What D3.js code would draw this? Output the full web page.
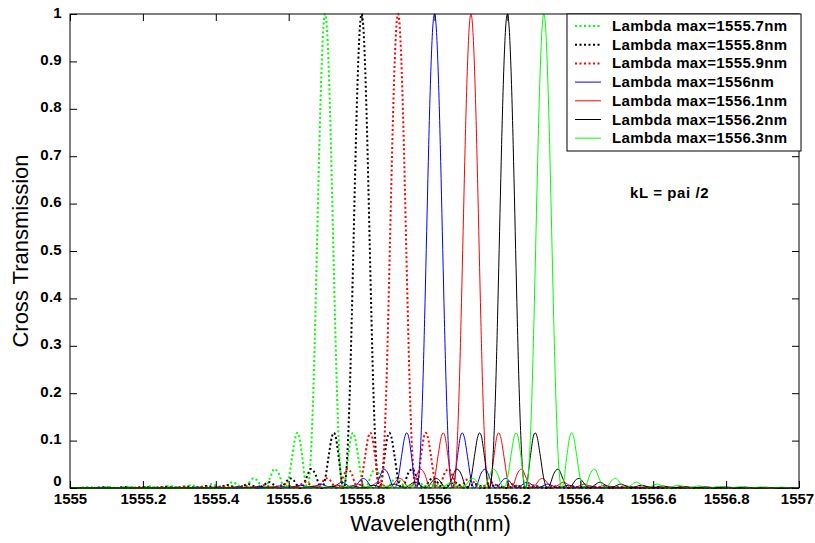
<!DOCTYPE html>
<html>
<head>
<meta charset="utf-8">
<script src="https://cdn.jsdelivr.net/npm/d3@7"></script>
<style>
  html, body { margin: 0; padding: 0; background: #fff; }
  svg { display: block; font-family: "Liberation Sans", Arial, sans-serif; }
</style>
</head>
<body>
<svg id="chart" width="815" height="543"></svg>
<script>
// ---------------- data ----------------
const seriesNames = [
  "Lambda max=1555.7nm", "Lambda max=1555.8nm", "Lambda max=1555.9nm",
  "Lambda max=1556nm", "Lambda max=1556.1nm", "Lambda max=1556.2nm", "Lambda max=1556.3nm"
];
const centers = [1555.7, 1555.8, 1555.9, 1556.0, 1556.1, 1556.2, 1556.3];
const seriesColors = ["#00ff00", "#000000", "#ff0000", "#0000ff", "#ff0000", "#000000", "#00ff00"];
const seriesDotted = [true, true, true, false, false, false, false];

// one-sided response: offset from the peak (nm) and transmission
const profileOffset = [0, 0.0045, 0.0090, 0.0136, 0.0181, 0.0226, 0.0271, 0.0316, 0.0362, 0.0407,
  0.0434, 0.0461, 0.0492, 0.0542, 0.0633, 0.0723, 0.0763, 0.0814, 0.0904, 0.0994, 0.1049, 0.1100,
  0.1175, 0.1266, 0.1392, 0.1519, 0.1609, 0.1680, 0.1772, 0.1862, 0.1967, 0.2079, 0.2170, 0.2255,
  0.2396, 0.2540, 0.2685, 0.2826, 0.2965, 0.3112, 0.3254, 0.3395, 0.3681, 0.3967, 0.4251, 0.4535,
  0.4820, 0.5104, 0.5388, 0.5674, 0.5957, 0.6241, 0.6525, 0.6811, 0.7095, 0.7379];
const profileValue = [1, 0.975, 0.9025, 0.791, 0.653, 0.503, 0.356, 0.225, 0.121, 0.049,
  0.022, 0.006, 0, 0.0126, 0.0687, 0.1119, 0.1163, 0.1083, 0.0670, 0.0215, 0.0050, 0,
  0.0085, 0.0290, 0.0400, 0.0203, 0.0043, 0, 0.0058, 0.0160, 0.0204, 0.0123, 0.0034, 0,
  0.0062, 0.0124, 0.0062, 0, 0.0041, 0.0083, 0.0041, 0, 0.0059, 0, 0.0044, 0,
  0.0035, 0, 0.0028, 0, 0.0023, 0, 0.0019, 0, 0.0016, 0];

const xDomain = [1555, 1557];
const yDomain = [0, 1];
const xTicks = [1555, 1555.2, 1555.4, 1555.6, 1555.8, 1556, 1556.2, 1556.4, 1556.6, 1556.8, 1557];
const xTickLabels = ["1555", "1555.2", "1555.4", "1555.6", "1555.8", "1556", "1556.2", "1556.4", "1556.6", "1556.8", "1557"];
const yTicks = [0, 0.1, 0.2, 0.3, 0.4, 0.5, 0.6, 0.7, 0.8, 0.9, 1];
const yTickLabels = ["0", "0.1", "0.2", "0.3", "0.4", "0.5", "0.6", "0.7", "0.8", "0.9", "1"];
const xTitle = "Wavelength(nm)";
const yTitle = "Cross Transmission";
const annotation = "kL = pai /2";

// ---------------- layout ----------------
const L = 70, R = 799, T = 14, B = 488;
const svg = d3.select("#chart");
const x = d3.scaleLinear().domain(xDomain).range([L, R]);
const y = d3.scaleLinear().domain(yDomain).range([B, T]);

svg.append("defs").append("clipPath").attr("id", "clip")
  .append("rect").attr("x", L).attr("y", 0).attr("width", R - L).attr("height", B + 2);

function buildSeries(c) {
  const pts = [{x: xDomain[0] - 0.01, y: 0}];
  const left = [];
  for (let i = profileOffset.length - 1; i >= 1; i--) left.push({x: c - profileOffset[i], y: profileValue[i]});
  const right = [];
  for (let i = 0; i < profileOffset.length; i++) right.push({x: c + profileOffset[i], y: profileValue[i]});
  return pts.concat(left, right, [{x: xDomain[1] + 0.01, y: 0}]);
}
const line = d3.line().x(d => x(d.x)).y(d => y(d.y)).curve(d3.curveMonotoneX);

const gLines = svg.append("g").attr("clip-path", "url(#clip)");
centers.forEach((c, i) => {
  gLines.append("path")
    .attr("d", line(buildSeries(c)))
    .attr("fill", "none")
    .attr("stroke", seriesColors[i])
    .attr("stroke-width", seriesDotted[i] ? 2 : 1)
    .attr("stroke-dasharray", seriesDotted[i] ? "2,2.5" : null);
});

// axes
const tickFont = "bold 15px 'Liberation Sans', Arial, sans-serif";
const gx = svg.append("g").attr("transform", `translate(0,${B})`)
  .call(d3.axisBottom(x).tickValues(xTicks).tickFormat((d, i) => xTickLabels[i]).tickSizeInner(-7).tickSizeOuter(0).tickPadding(4));
const gxt = svg.append("g").attr("transform", `translate(0,${T})`)
  .call(d3.axisTop(x).tickValues(xTicks).tickFormat("").tickSizeInner(-7).tickSizeOuter(0));
const gy = svg.append("g").attr("transform", `translate(${L},0)`)
  .call(d3.axisLeft(y).tickValues(yTicks).tickFormat((d, i) => yTickLabels[i]).tickSizeInner(-7).tickSizeOuter(0).tickPadding(8));
const gyr = svg.append("g").attr("transform", `translate(${R},0)`)
  .call(d3.axisRight(y).tickValues(yTicks).tickFormat("").tickSizeInner(-7).tickSizeOuter(0));
[gx, gxt, gy, gyr].forEach(g => {
  g.select(".domain").remove();
  g.selectAll("line").attr("stroke", "#000");
  g.selectAll("text").style("font", tickFont).attr("fill", "#000");
});
gy.selectAll("text").style("letter-spacing", "0.3px").attr("dy", "0.2em");
gy.selectAll("text").filter(d => d === 0).attr("dy", "-0.15em");
gx.selectAll("text").attr("dy", "0.8em");
gx.selectAll("text").filter(d => d === xDomain[1]).attr("x", -2);
svg.append("rect").attr("x", L).attr("y", T).attr("width", R - L).attr("height", B - T)
  .attr("fill", "none").attr("stroke", "#000").attr("stroke-width", 1);

// axis titles
svg.append("text").attr("x", (L + R) / 2 - 4).attr("y", 531).attr("text-anchor", "middle")
  .style("font", "22px 'Liberation Sans', Arial, sans-serif").text(xTitle);
svg.append("text").attr("transform", `translate(28,${(T + B) / 2}) rotate(-90)`).attr("text-anchor", "middle")
  .style("font", "22px 'Liberation Sans', Arial, sans-serif").text(yTitle);

// annotation
svg.append("text").attr("x", 630).attr("y", 198)
  .style("font", "bold 15px 'Liberation Sans', Arial, sans-serif").style("letter-spacing", "0.6px").text(annotation);

// legend
const lg = svg.append("g");
lg.append("rect").attr("x", 567).attr("y", 14).attr("width", 234).attr("height", 137)
  .attr("fill", "#fff").attr("stroke", "#000").attr("stroke-width", 1);
seriesNames.forEach((name, i) => {
  const yy = 26 + i * 18.7;
  lg.append("line").attr("x1", 575).attr("x2", 601).attr("y1", yy).attr("y2", yy)
    .attr("stroke", seriesColors[i])
    .attr("stroke-width", seriesDotted[i] ? 2 : 1)
    .attr("stroke-dasharray", seriesDotted[i] ? "2,2.5" : null);
  lg.append("text").attr("x", 612).attr("y", yy + 5)
    .style("font", "bold 15px 'Liberation Sans', Arial, sans-serif").style("letter-spacing", "0.35px").text(name);
});
</script>
</body>
</html>
